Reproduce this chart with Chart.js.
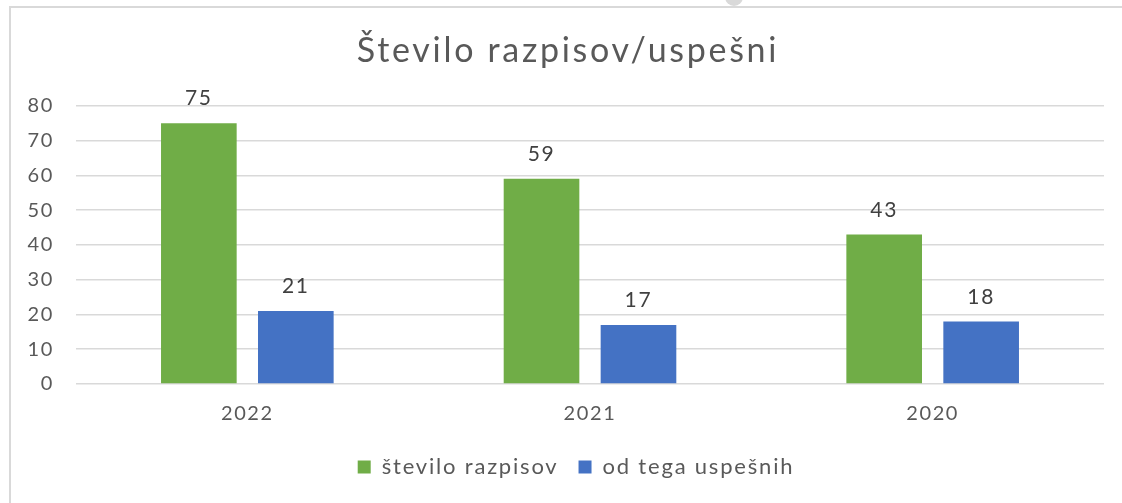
<!DOCTYPE html>
<html>
<head>
<meta charset="utf-8">
<title>Število razpisov/uspešni</title>
<script src="https://cdn.jsdelivr.net/npm/chart.js@4/dist/chart.umd.min.js"></script>
<style>
  html, body { margin: 0; padding: 0; background: #fff; }
  #wrap { position: relative; width: 1122px; height: 503px; overflow: hidden; }
  #frame { position: absolute; left: 9px; top: 6px; right: -2px; bottom: -2px;
           border-top: 2px solid #d9d9d9; border-left: 2px solid #d9d9d9; }
  #handle { position: absolute; left: 725px; top: -10px; width: 18px; height: 16px;
            background: #d9d9d9; border-radius: 0 0 9px 9px; }
  canvas { position: absolute; left: 0; top: 0; }
</style>
</head>
<body>
<div id="wrap">
  <div id="frame"></div>
  <div id="handle"></div>
  <canvas id="razpisiChart" width="1122" height="503"></canvas>
</div>
<script>
// Years, newest first
const years = ['2022', '2021', '2020'];
const steviloRazpisov = [75, 59, 43];
const odTegaUspesnih = [21, 17, 18];
const yTicks = [0, 10, 20, 30, 40, 50, 60, 70, 80];

const fontFamily = "Lato, 'Open Sans', sans-serif";
const textGray = '#595959';

// Open up the letter spacing a little whenever a font is set,
// so the text has a wider, rounder look
const fontProp = Object.getOwnPropertyDescriptor(CanvasRenderingContext2D.prototype, 'font');
Object.defineProperty(CanvasRenderingContext2D.prototype, 'font', {
    configurable: true,
    get() { return fontProp.get.call(this); },
    set(v) {
        fontProp.set.call(this, v);
        const m = /(\d+(?:\.\d+)?)px/.exec(v);
        if (m) this.letterSpacing = (parseFloat(m[1]) * 0.08).toFixed(1) + 'px';
    }
});

// Writes each bar's value just above it
const valueLabels = {
    id: 'valueLabels',
    afterDatasetsDraw(chart) {
        const ctx = chart.ctx;
        ctx.save();
        ctx.font = '21px ' + fontFamily;
        ctx.fillStyle = '#404040';
        ctx.textAlign = 'center';
        ctx.textBaseline = 'bottom';
        chart.data.datasets.forEach((ds, i) => {
            chart.getDatasetMeta(i).data.forEach((bar, j) => {
                ctx.fillText(ds.data[j], bar.x, bar.y - 14);
            });
        });
        ctx.restore();
    }
};

// Centre the title and legend over the plot instead of the whole canvas
const centerBlocks = {
    id: 'centerBlocks',
    afterLayout(chart) {
        if (chart.titleBlock) chart.titleBlock.left += 22;
        if (chart.legend) chart.legend.left += 38;
    }
};

const ctx = document.getElementById('razpisiChart').getContext('2d');
const chart = new Chart(ctx, {
    type: 'bar',
    data: {
        labels: years,
        datasets: [{
            label: 'število razpisov',
            data: steviloRazpisov,
            backgroundColor: '#70ad47',
            borderWidth: 0
        }, {
            label: 'od tega uspešnih',
            data: odTegaUspesnih,
            backgroundColor: '#4472c4',
            borderWidth: 0
        }]
    },
    options: {
        responsive: false,
        animation: false,
        categoryPercentage: 0.566,
        barPercentage: 0.78,
        layout: { padding: { left: 10, right: 18, top: 31, bottom: 15 } },
        plugins: {
            title: {
                display: true,
                text: 'Število razpisov/uspešni',
                color: textGray,
                font: { family: fontFamily, size: 34, weight: 'normal' },
                padding: { top: 0, bottom: 34 }
            },
            legend: {
                position: 'bottom',
                labels: {
                    color: textGray,
                    font: { family: fontFamily, size: 22 },
                    boxWidth: 13,
                    boxHeight: 13,
                    padding: 20
                }
            },
            tooltip: { enabled: false }
        },
        scales: {
            x: {
                grid: { display: false },
                border: { display: false },
                ticks: {
                    color: textGray,
                    font: { family: fontFamily, size: 20 },
                    padding: 10
                }
            },
            y: {
                min: 0,
                max: 80,
                afterBuildTicks: axis => {
                    axis.ticks = yTicks.map(v => ({ value: v }));
                },
                afterFit: axis => { axis.width = 66; },
                grid: { color: '#d9d9d9', lineWidth: 1.5, drawTicks: false },
                border: { display: false },
                ticks: {
                    color: textGray,
                    font: { family: fontFamily, size: 20 },
                    padding: 22
                }
            }
        }
    },
    plugins: [valueLabels, centerBlocks]
});
</script>
</body>
</html>
